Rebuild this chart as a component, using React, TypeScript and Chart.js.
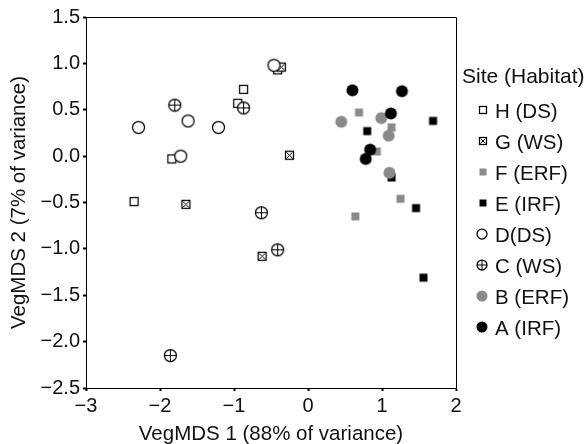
import React, { useEffect, useRef } from 'react';
import { Chart, registerables } from 'chart.js';

Chart.register(...registerables);

const FONT = '"Liberation Sans", Arial, Helvetica, sans-serif';

// ---- data (VegMDS 1, VegMDS 2) ----
const seriesLabels = ['H (DS)', 'G (WS)', 'F (ERF)', 'E (IRF)', 'D(DS)', 'C (WS)', 'B (ERF)', 'A (IRF)'];
const siteH: number[][] = [[-0.87, 0.72], [-0.95, 0.57], [-1.84, -0.03], [-0.41, 0.93], [-2.35, -0.49]];
const siteG: number[][] = [[-0.36, 0.96], [-0.25, 0.01], [-1.65, -0.52], [-0.62, -1.08]];
const siteF: number[][] = [[0.69, 0.47], [1.13, 0.31], [0.93, 0.05], [1.25, -0.46], [0.64, -0.65]];
const siteE: number[][] = [[0.8, 0.27], [1.69, 0.38], [1.13, -0.23], [1.46, -0.56], [1.56, -1.31]];
const siteD: number[][] = [[-2.29, 0.31], [-1.62, 0.38], [-1.21, 0.31], [-1.72, 0.0], [-0.46, 0.98]];
const siteC: number[][] = [[-1.8, 0.55], [-0.87, 0.52], [-0.63, -0.61], [-0.41, -1.01], [-1.86, -2.15]];
const siteB: number[][] = [[0.45, 0.37], [0.99, 0.41], [1.09, 0.22], [1.1, -0.18]];
const siteA: number[][] = [[0.6, 0.71], [1.27, 0.7], [1.12, 0.46], [0.84, 0.07], [0.78, -0.03]];
const xTickValues = [-3, -2, -1, 0, 1, 2];
const yTickValues = [-2.5, -2.0, -1.5, -1.0, -0.5, 0.0, 0.5, 1.0, 1.5];

type Kind = 'sqOpen' | 'sqX' | 'sqGray' | 'sqBlack' | 'cirOpen' | 'cirCross' | 'cirGray' | 'cirBlack';
const kinds: Kind[] = ['sqOpen', 'sqX', 'sqGray', 'sqBlack', 'cirOpen', 'cirCross', 'cirGray', 'cirBlack'];
const allSeries = [siteH, siteG, siteF, siteE, siteD, siteC, siteB, siteA];
const GRAY = '#8a8a8a';

function drawMarker(ctx: CanvasRenderingContext2D, kind: Kind, cx: number, cy: number, s: number) {
  ctx.save();
  ctx.lineWidth = 1.25;
  ctx.strokeStyle = '#000';
  const h = s / 2;
  if (kind.startsWith('sq')) {
    if (kind === 'sqOpen' || kind === 'sqX') {
      ctx.fillStyle = '#fff';
      ctx.fillRect(cx - h, cy - h, s, s);
      ctx.strokeRect(cx - h, cy - h, s, s);
      if (kind === 'sqX') {
        ctx.lineWidth = 1;
        ctx.beginPath();
        ctx.moveTo(cx - h + 1, cy - h + 1);
        ctx.lineTo(cx + h - 1, cy + h - 1);
        ctx.moveTo(cx + h - 1, cy - h + 1);
        ctx.lineTo(cx - h + 1, cy + h - 1);
        ctx.stroke();
      }
    } else {
      ctx.fillStyle = kind === 'sqGray' ? GRAY : '#000';
      ctx.fillRect(cx - h, cy - h, s, s);
    }
  } else {
    ctx.beginPath();
    ctx.arc(cx, cy, h, 0, Math.PI * 2);
    if (kind === 'cirOpen' || kind === 'cirCross') {
      ctx.fillStyle = '#fff';
      ctx.fill();
      ctx.stroke();
      if (kind === 'cirCross') {
        ctx.lineWidth = 1;
        ctx.beginPath();
        ctx.moveTo(cx - h, cy);
        ctx.lineTo(cx + h, cy);
        ctx.moveTo(cx, cy - h);
        ctx.lineTo(cx, cy + h);
        ctx.stroke();
      }
    } else {
      ctx.fillStyle = kind === 'cirGray' ? GRAY : '#000';
      ctx.fill();
    }
  }
  ctx.restore();
}

function makeStyle(kind: Kind, s: number): HTMLCanvasElement {
  const c = document.createElement('canvas');
  c.width = 15;
  c.height = 15;
  const ctx = c.getContext('2d')!;
  drawMarker(ctx, kind, 7.5, 7.5, s);
  return c;
}

const minus = (v: number, d: number) => {
  const t = Math.abs(v).toFixed(d);
  return v < 0 ? '\u2212' + t : t;
};

const frameLegendPlugin = {
  id: 'frameLegend',
  afterDraw(chart: any) {
    const { ctx, chartArea: a } = chart;
    ctx.save();
    ctx.strokeStyle = '#000';
    ctx.lineWidth = 1;
    ctx.beginPath();
    const t = Math.floor(a.top) + 0.5;
    const r = Math.floor(a.right) + 0.5;
    ctx.moveTo(a.left, t);
    ctx.lineTo(r, t);
    ctx.lineTo(r, a.bottom);
    ctx.stroke();

    ctx.fillStyle = '#111';
    ctx.textBaseline = 'alphabetic';
    ctx.textAlign = 'left';
    ctx.font = `21px ${FONT}`;
    ctx.fillText('Site (Habitat)', 462, 83);
    ctx.font = `20.5px ${FONT}`;
    const sizes = [7, 7, 7, 7, 10, 10, 11, 11];
    seriesLabels.forEach((lab, i) => {
      const cy = 110 + i * 31;
      const k = kinds[i];
      const cx = k.startsWith('sq') ? 483 : 482;
      drawMarker(ctx, k, cx, cy, sizes[i]);
      ctx.fillStyle = '#111';
      ctx.fillText(lab, 495, cy + 7.5);
    });
    ctx.restore();
  },
};

export default function App() {
  const ref = useRef<HTMLCanvasElement | null>(null);
  useEffect(() => {
    document.body.style.margin = '0';
    if (!ref.current) return;
    const pointSizes = [8, 8, 8, 8, 12, 12, 12, 12];
    const datasets = seriesLabels.map((lab, i) => ({
      label: lab,
      data: allSeries[i].map(([x, y]) => ({ x, y })),
      pointStyle: makeStyle(kinds[i], pointSizes[i]),
      order: 7 - i,
    }));
    const chart = new Chart(ref.current, {
      type: 'scatter',
      data: { datasets },
      plugins: [frameLegendPlugin],
      options: {
        animation: false,
        responsive: false,
        layout: { padding: { top: 17, right: 132, left: 0, bottom: 0 } },
        plugins: { legend: { display: false }, tooltip: { enabled: false } },
        scales: {
          x: {
            type: 'linear',
            min: -3,
            max: 2,
            afterFit: (s: any) => { s.height = 56; },
            afterBuildTicks: (s: any) => { s.ticks = xTickValues.map((v) => ({ value: v })); },
            ticks: {
              callback: (v: any) => minus(Number(v), 0),
              color: '#111',
              font: { family: FONT, size: 20 },
              padding: 3,
              maxRotation: 0,
            },
            grid: { drawOnChartArea: false, drawTicks: true, tickLength: 3, tickWidth: 2, tickColor: '#000' },
            border: { display: true, color: '#000', width: 1 },
            title: {
              display: true,
              text: 'VegMDS 1 (88% of variance)',
              color: '#111',
              font: { family: FONT, size: 20.5, lineHeight: 1 },
              padding: { top: 0, bottom: -1 },
            },
          },
          y: {
            type: 'linear',
            min: -2.5,
            max: 1.5,
            afterFit: (s: any) => { s.width = 86; },
            afterBuildTicks: (s: any) => { s.ticks = yTickValues.map((v) => ({ value: v })); },
            ticks: {
              callback: (v: any) => minus(Number(v), 1),
              color: '#111',
              font: { family: FONT, size: 20 },
              padding: 3,
            },
            grid: { drawOnChartArea: false, drawTicks: true, tickLength: 3, tickWidth: 2, tickColor: '#000' },
            border: { display: true, color: '#000', width: 1 },
            title: {
              display: true,
              text: 'VegMDS 2 (7% of variance)',
              color: '#111',
              font: { family: FONT, size: 20.5 },
              padding: { top: 7, bottom: 0 },
            },
          },
        },
      },
    });
    return () => chart.destroy();
  }, []);
  return (
    <div style={{ width: 588, height: 444, position: 'relative' }}>
      <canvas ref={ref} width={588} height={444} />
    </div>
  );
}
